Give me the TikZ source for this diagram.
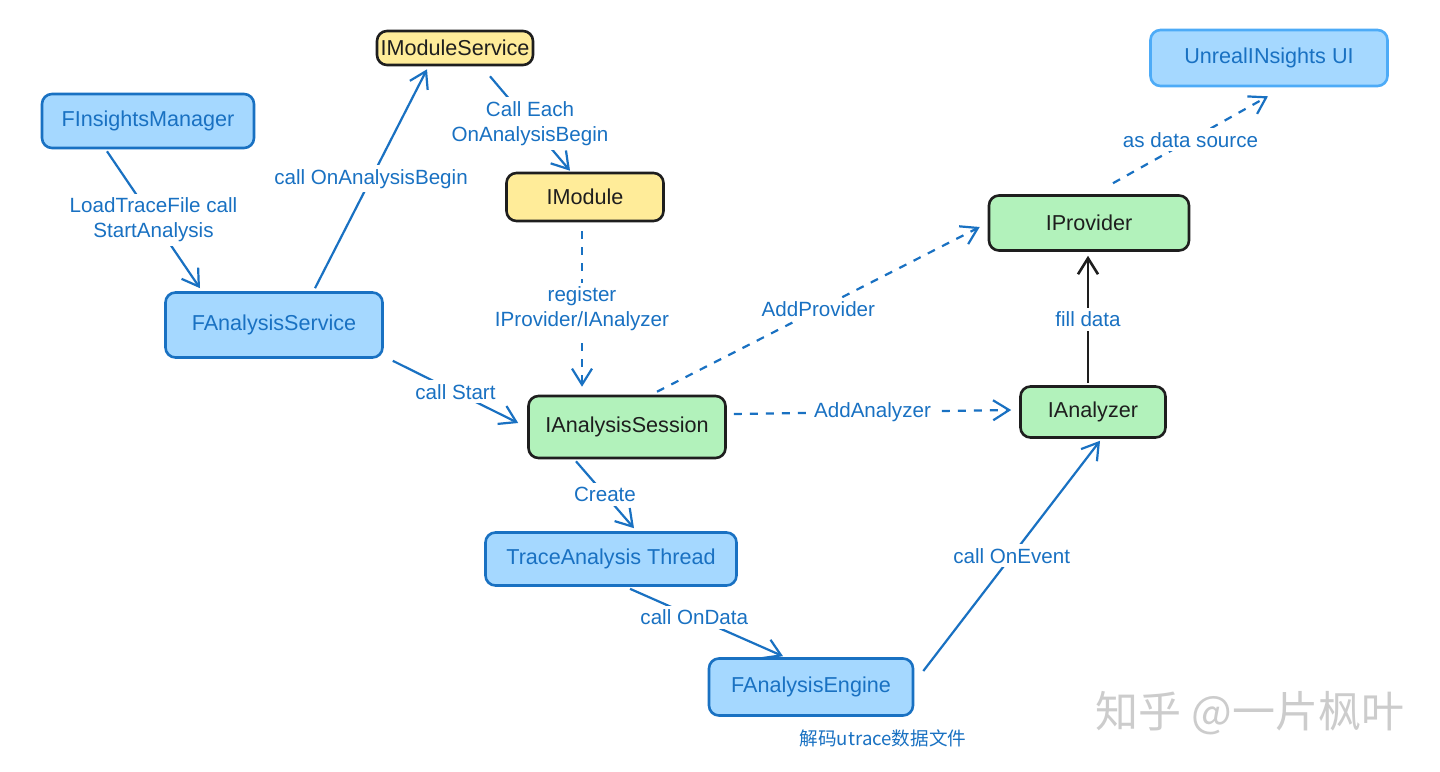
\documentclass[tikz,border=0pt]{standalone}
\usepackage{fontspec}
\setmainfont{Liberation Sans}
\newfontfamily\cjk{Noto Sans CJK SC}
\usetikzlibrary{arrows.meta}
\definecolor{bstroke}{HTML}{1971C2}
\definecolor{bfill}{HTML}{A5D8FF}
\definecolor{bstrokelight}{HTML}{4DABF7}
\definecolor{yfill}{HTML}{FFEC99}
\definecolor{gfill}{HTML}{B2F2BB}
\definecolor{ink}{HTML}{1E1E1E}
\tikzset{
  box/.style={rectangle, rounded corners=5pt, line width=1.3pt, inner sep=0pt, font=\fontsize{10.8}{13}\selectfont, align=center},
  bluebox/.style={box, draw=bstroke, fill=bfill, text=bstroke},
  yellowbox/.style={box, draw=ink, fill=yfill, text=ink},
  greenbox/.style={box, draw=ink, fill=gfill, text=ink},
  tip/.style={-{Straight Barb[length=8pt,width=10pt,line width=1.1pt]}},
  conn/.style={draw=bstroke, line width=1.1pt, tip},
  dconn/.style={conn, dash pattern=on 4pt off 4pt},
  lbl/.style={fill=white, text=bstroke, font=\fontsize{10.3}{12.5}\selectfont, align=center, inner sep=2pt},
}
\begin{document}
\begin{tikzpicture}[x=0.5pt,y=-0.5pt]
\useasboundingbox (0,0) rectangle (1440,771);
\fill[white] (0,0) rectangle (1440,771);
% nodes
\node[yellowbox, minimum width=78pt, minimum height=17pt] (ims) at (455,48) {IModuleService};
\node[bluebox, minimum width=106pt, minimum height=27pt] (fim) at (148,121) {FInsightsManager};
\node[yellowbox, minimum width=78.5pt, minimum height=24pt] (imod) at (585,197) {IModule};
\node[bluebox, draw=bstrokelight, minimum width=118.5pt, minimum height=28pt] (ui) at (1269,58) {UnrealINsights UI};
\node[greenbox, minimum width=100pt, minimum height=27.5pt] (prov) at (1089,223) {IProvider};
\node[bluebox, minimum width=108.5pt, minimum height=32.5pt] (fas) at (274,325) {FAnalysisService};
\node[greenbox, minimum width=98.5pt, minimum height=31pt] (ias) at (627,427) {IAnalysisSession};
\node[greenbox, minimum width=72.5pt, minimum height=25.5pt] (ian) at (1093,412) {IAnalyzer};
\node[bluebox, minimum width=125.5pt, minimum height=26.5pt] (tat) at (611,559) {TraceAnalysis Thread};
\node[bluebox, minimum width=102pt, minimum height=28.5pt] (fae) at (811,687) {FAnalysisEngine};
\node[text=bstroke, font=\cjk\fontsize{9.3}{11}\selectfont, inner sep=0pt] (note) at (883,738) {解码utrace数据文件};
\node[text=gray!40, font=\cjk\fontsize{21.5}{25}\selectfont, inner sep=0pt] (wm) at (1250,713) {知乎 @一片枫叶};
% connectors
\draw[conn] ([xshift=-20.5pt,yshift=-1pt]fim.south) -- node[lbl]{LoadTraceFile call\\StartAnalysis} ([xshift=-37pt,yshift=1.5pt]fas.north);
\draw[conn] ([xshift=20.5pt,yshift=1.5pt]fas.north) -- node[lbl]{call OnAnalysisBegin} ([xshift=-14pt,yshift=-1.5pt]ims.south);
\draw[conn] ([xshift=17.5pt,yshift=-5pt]ims.south) -- node[lbl]{Call Each\\OnAnalysisBegin} ([xshift=-7.5pt,yshift=0.5pt]imod.north);
\draw[dconn] ([xshift=-1.5pt,yshift=-4.5pt]imod.south) -- node[lbl]{register\\IProvider/IAnalyzer} ([xshift=-22.5pt,yshift=4pt]ias.north);
\draw[conn] ([xshift=4.5pt,yshift=-1pt]fas.south east) -- node[lbl]{call Start} ([xshift=-4.5pt,yshift=2pt]ias.west);
\draw[dconn] ([xshift=15pt,yshift=1.5pt]ias.north) -- node[lbl]{AddProvider} ([xshift=-4pt,yshift=-2pt]prov.west);
\draw[dconn] ([xshift=12pt,yshift=5.5pt]prov.north) -- node[lbl]{as data source} ([xshift=-0.5pt,yshift=-4.5pt]ui.south);
\draw[dconn] ([xshift=3.5pt,yshift=6.5pt]ias.east) -- node[lbl]{AddAnalyzer} ([xshift=-4pt,yshift=1pt]ian.west);
\draw[conn, draw=ink, line width=1.4pt, -{Straight Barb[length=8pt,width=10pt,line width=1.3pt]}] ([xshift=-2.5pt,yshift=1pt]ian.north) -- node[lbl]{fill data} ([xshift=-0.5pt,yshift=-2pt]prov.south);
\draw[conn] ([xshift=-25.5pt,yshift=-1pt]ias.south) -- node[lbl]{Create} ([xshift=11.5pt,yshift=1.5pt]tat.north);
\draw[conn] ([xshift=9.5pt,yshift=-1pt]tat.south) -- node[lbl, pos=0.42]{call OnData} ([xshift=-14pt,yshift=0.5pt]fae.north);
\draw[conn] ([xshift=4.5pt,yshift=8pt]fae.east) -- node[lbl]{call OnEvent} ([xshift=3.5pt,yshift=-1pt]ian.south);
\end{tikzpicture}
\end{document}
